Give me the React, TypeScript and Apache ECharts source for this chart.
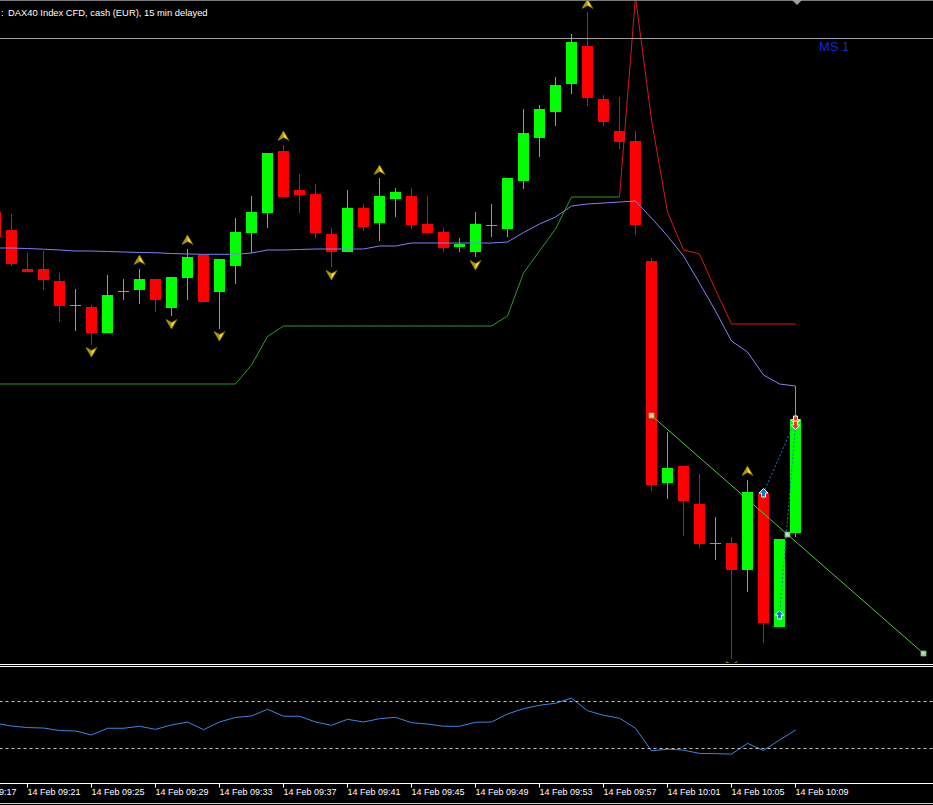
import React, { useEffect, useRef } from "react";
import * as echarts from "echarts";

// ---------- DATA ----------
const candleMinutes = [
  19, 20, 21, 22, 23, 24, 25, 26, 27, 28, 29, 30, 31, 32, 33, 34, 35, 36, 37, 38, 39, 40, 41, 42, 43, 44,
  45, 46, 47, 48, 49, 50, 51, 52, 53, 54, 55, 56, 57, 58, 59, 60, 61, 62, 63, 64, 65, 66, 67, 68, 69,
];
const candleOpen = [
  15594, 15585, 15565.5, 15565.5, 15559.5, 15547.5, 15546.5, 15533.5, 15554.5, 15555, 15560.5, 15546, 15561,
  15572.5, 15554, 15567, 15583.5, 15593.5, 15624.5, 15605, 15603, 15583, 15574, 15596, 15588.5, 15600.5, 15602,
  15588, 15584, 15576.5, 15574, 15587.5, 15585.5, 15609.5, 15631, 15644, 15658, 15677, 15650.5, 15634.5, 15629.5,
  15569.5, 15458.5, 15467, 15448, 15428.5, 15428.5, 15415, 15453.5, 15386.5, 15433.5,
];
const candleClose = [
  15581.5, 15568, 15564, 15560, 15547, 15547.5, 15533.5, 15552.5, 15554.5, 15560.5, 15550, 15561.5, 15571.5,
  15549, 15570.5, 15584, 15594, 15623.5, 15601.5, 15602.5, 15583.5, 15574, 15596, 15586.5, 15602, 15604, 15587.5,
  15583.5, 15576, 15578, 15588, 15587.5, 15611, 15633.5, 15645.5, 15657.5, 15679, 15651, 15639, 15629, 15587.5,
  15457.5, 15466, 15449.5, 15428, 15428.5, 15415, 15454, 15388.5, 15430.5, 15490.5,
];
const candleLow = [
  15580, 15567, 15564, 15555, 15539, 15534.5, 15527.5, 15533.5, 15550, 15548, 15544, 15542, 15550, 15549,
  15535.5, 15558, 15573.5, 15586, 15601.5, 15593.5, 15581, 15566.5, 15574, 15584.5, 15579.5, 15591.5, 15585.5,
  15583.5, 15574, 15574, 15571.5, 15581.5, 15581.5, 15605.5, 15621.5, 15637, 15653, 15647, 15637, 15625.5,
  15582.5, 15454.5, 15450.5, 15432, 15426, 15420, 15370.5, 15404, 15378.5, 15386.5, 15431.5,
];
const candleHigh = [
  15597.5, 15593, 15573.5, 15574.5, 15563.5, 15555.5, 15547.5, 15562.5, 15560.5, 15565.5, 15560.5, 15561.5,
  15575.5, 15572.5, 15570.5, 15591, 15602, 15623.5, 15627.5, 15613, 15608, 15586, 15605, 15598, 15611, 15606,
  15606, 15602, 15586, 15581, 15594, 15598, 15611, 15645.5, 15647.5, 15661.5, 15683, 15694, 15652.5, 15651.5,
  15634.5, 15571, 15484, 15467, 15463, 15441.5, 15431.5, 15460, 15453.5, 15430.5, 15507,
];
const maValues = [
  15576, 15576, 15575.75, 15575.4, 15575, 15574.5, 15574.5, 15574.25, 15574, 15573.75, 15573.65, 15573.25, 15573,
  15572.85, 15572.85, 15572.85, 15573.5, 15575, 15575, 15575.25, 15575.5, 15575.5, 15575.5, 15575.5, 15577, 15577,
  15578.5, 15578.5, 15578.5, 15578.5, 15578.5, 15578.5, 15579, 15583.75, 15588, 15591.5, 15597, 15598, 15598.5,
  15599, 15599.5, 15591, 15582, 15572, 15558.5, 15544.5, 15529.5, 15524, 15512.5, 15508, 15507,
];
const stopUpMinutes = [
  19, 20, 21, 22, 23, 24, 25, 26, 27, 28, 29, 30, 31, 32, 33, 34, 35, 36, 37, 38, 39, 40, 41, 42, 43, 44,
  45, 46, 47, 48, 49, 50, 51, 52, 53, 54, 55, 56, 57, 58,
];
const stopUpValues = [
  15508, 15508, 15508, 15508, 15508, 15508, 15508, 15508, 15508, 15508, 15508, 15508, 15508, 15508, 15508, 15508,
  15517.5, 15531.75, 15537, 15537, 15537, 15537, 15537, 15537, 15537, 15537, 15537, 15537, 15537, 15537, 15537,
  15537, 15542, 15563.5, 15574.5, 15585.5, 15601.5, 15601.5, 15601.5, 15601.5,
];
const stopDownMinutes = [58, 59, 60, 61, 62, 63, 64, 65, 66, 67, 68, 69];
const stopDownValues = [15601.5, 15701.5, 15640, 15594, 15575, 15573, 15555, 15538, 15538, 15538, 15538, 15538];

const fractalUpMinutes = [28, 31, 37, 43, 56, 66];
const fractalUpPrices = [15570, 15580, 15632, 15615, 15698, 15464.5];
const fractalDownMinutes = [25, 30, 33, 40, 49, 65];
const fractalDownPrices = [15524, 15538, 15532, 15562.5, 15567.5, 15367];

const trendMinutes = [60, 77];
const trendPrices = [15492.25, 15373.25];

const tradeOpenMinutes = [67, 68];
const tradeOpenPrices = [15453.5, 15392.5];
const tradeCloseMinutes = [69, 69];
const tradeClosePrices = [15490, 15487.5];

const levelLinePrice = 15680.75;

const rsiValues = [
  51.0, 48.7, 47.4, 47.0, 44.9, 44.5, 41.1, 46.8, 46.8, 48.5, 45.9, 49.6, 52.1, 45.6, 52.1, 56.0, 57.2, 62.9,
  57.0, 57.0, 52.1, 49.3, 54.4, 52.1, 54.9, 56.1, 51.5, 50.4, 48.5, 48.5, 51.9, 52.1, 58.9, 63.4, 66.3, 68.0,
  72.3, 61.7, 57.8, 55.3, 46.8, 27.7, 29.1, 28.3, 25.5, 25.3, 24.9, 34.0, 28.0, 36.8, 45.3,
];
const rsiLevels = [70, 30];

const timeTickMinutes = [17, 21, 25, 29, 33, 37, 41, 45, 49, 53, 57, 61, 65, 69];
const timeLabels = [
  "14 Feb 09:17", "14 Feb 09:21", "14 Feb 09:25", "14 Feb 09:29", "14 Feb 09:33", "14 Feb 09:37",
  "14 Feb 09:41", "14 Feb 09:45", "14 Feb 09:49", "14 Feb 09:53", "14 Feb 09:57", "14 Feb 10:01",
  "14 Feb 10:05", "14 Feb 10:09",
];

const TITLE = "DAX40 Index CFD, cash (EUR), 15 min delayed";
const CORNER_LABEL = "MS 1";

// ---------- STYLE ----------
const FONT = "'Liberation Sans', Arial, sans-serif";
const BULL = "#00ff00";
const BEAR = "#ff0000";
const PRICE_MIN = 15368.5;
const PRICE_MAX = 15700;
const X_MIN = 17;
const X_MAX = 81;

function buildOption(): any {
  const candleData = candleMinutes.map((m, k) => [m, candleOpen[k], candleClose[k], candleLow[k], candleHigh[k]]);
  const fractalData = [
    ...fractalUpMinutes.map((m, k) => [m, fractalUpPrices[k], 1]),
    ...fractalDownMinutes.map((m, k) => [m, fractalDownPrices[k], -1]),
  ];
  const tradeMarkData = [
    ...tradeOpenMinutes.map((m, k) => [m, tradeOpenPrices[k], 1]),
    ...tradeCloseMinutes.map((m, k) => [m, tradeClosePrices[k], -1]),
  ];
  const trendHandles = [
    [trendMinutes[0], trendPrices[0]],
    [(trendMinutes[0] + trendMinutes[1]) / 2, (trendPrices[0] + trendPrices[1]) / 2],
    [trendMinutes[1], trendPrices[1]],
  ];

  const tradeLineSeries = tradeOpenMinutes.map((m, k) => ({
    type: "line",
    xAxisIndex: 0,
    yAxisIndex: 0,
    z: 5,
    silent: true,
    showSymbol: false,
    data: [
      [m, tradeOpenPrices[k]],
      [tradeCloseMinutes[k], tradeClosePrices[k]],
    ],
    lineStyle: { color: "#2f6fd0", width: 1, type: [2, 2] },
  }));

  const gridBase = { outerBoundsMode: "none", containLabel: false };

  return {
    animation: false,
    backgroundColor: "#000000",
    grid: [
      { ...gridBase, left: -36.5, top: 0, width: 1024, height: 663 },
      { ...gridBase, left: -36.5, top: 665.5, width: 1024, height: 118 },
      { ...gridBase, left: -36.5, top: 665.5, width: 832, height: 118 },
    ],
    xAxis: [
      { gridIndex: 0, type: "value", min: X_MIN, max: X_MAX, show: false },
      { gridIndex: 1, type: "value", min: X_MIN, max: X_MAX, show: false },
      {
        gridIndex: 2,
        type: "value",
        min: X_MIN,
        max: 69,
        interval: 4,
        position: "bottom",
        axisLine: { show: false },
        splitLine: { show: false },
        axisTick: { show: true, length: 4, lineStyle: { color: "#ffffff", width: 1 } },
        axisLabel: {
          show: true,
          showMinLabel: true,
          showMaxLabel: true,
          hideOverlap: false,
          color: "#ffffff",
          fontSize: 9,
          fontFamily: FONT,
          align: "left",
          margin: 4,
          formatter: (v: number) => {
            const k = timeTickMinutes.indexOf(Math.round(v));
            return k >= 0 ? timeLabels[k] : "";
          },
        },
      },
    ],
    yAxis: [
      { gridIndex: 0, type: "value", min: PRICE_MIN, max: PRICE_MAX, show: false },
      { gridIndex: 1, type: "value", min: 0, max: 100, show: false },
      { gridIndex: 2, type: "value", min: 0, max: 100, show: false },
    ],
    series: [
      {
        type: "custom",
        name: "candles",
        xAxisIndex: 0,
        yAxisIndex: 0,
        clip: true,
        silent: true,
        z: 2,
        encode: { x: 0, y: [1, 2, 3, 4] },
        data: candleData,
        renderItem: (params: any, api: any) => {
          const x = api.value(0);
          const o = api.value(1);
          const c = api.value(2);
          const l = api.value(3);
          const h = api.value(4);
          const pO = api.coord([x, o]);
          const pC = api.coord([x, c]);
          const pL = api.coord([x, l]);
          const pH = api.coord([x, h]);
          const bw = api.size([1, 0])[0] * 0.6875;
          const color = c >= o ? BULL : BEAR;
          const top = Math.min(pO[1], pC[1]);
          const hgt = Math.max(Math.abs(pO[1] - pC[1]), 1);
          return {
            type: "group",
            children: [
              {
                type: "line",
                shape: { x1: pH[0], y1: pH[1], x2: pL[0], y2: pL[1] },
                style: { stroke: color, lineWidth: 1 },
              },
              {
                type: "rect",
                shape: { x: pO[0] - bw / 2, y: top, width: bw, height: hgt },
                style: { fill: color },
              },
            ],
          };
        },
      },
      {
        type: "line",
        name: "ma",
        xAxisIndex: 0,
        yAxisIndex: 0,
        z: 3,
        silent: true,
        showSymbol: false,
        data: candleMinutes.map((m, k) => [m, maValues[k]]),
        lineStyle: { color: "#8282f5", width: 1 },
        markLine: {
          silent: true,
          symbol: ["none", "none"],
          label: { show: false },
          lineStyle: { color: "#a0a0a0", width: 1, type: "solid" },
          data: [{ yAxis: levelLinePrice }],
        },
      },
      {
        type: "line",
        name: "stopUp",
        xAxisIndex: 0,
        yAxisIndex: 0,
        z: 3,
        silent: true,
        showSymbol: false,
        data: stopUpMinutes.map((m, k) => [m, stopUpValues[k]]),
        lineStyle: { color: "#2d9a2d", width: 1 },
      },
      {
        type: "line",
        name: "stopDown",
        xAxisIndex: 0,
        yAxisIndex: 0,
        z: 3,
        silent: true,
        showSymbol: false,
        data: stopDownMinutes.map((m, k) => [m, stopDownValues[k]]),
        lineStyle: { color: "#d81818", width: 1 },
      },
      {
        type: "line",
        name: "trend",
        xAxisIndex: 0,
        yAxisIndex: 0,
        z: 4,
        silent: true,
        showSymbol: false,
        data: trendMinutes.map((m, k) => [m, trendPrices[k]]),
        lineStyle: { color: "#4cc83a", width: 1 },
      },
      {
        type: "scatter",
        name: "trendHandles",
        xAxisIndex: 0,
        yAxisIndex: 0,
        z: 6,
        silent: true,
        symbol: "rect",
        symbolSize: 5,
        data: trendHandles,
        itemStyle: { color: "#eaffe0", borderColor: "#5cc84a", borderWidth: 1 },
      },
      ...tradeLineSeries,
      {
        type: "custom",
        name: "fractals",
        xAxisIndex: 0,
        yAxisIndex: 0,
        clip: true,
        silent: true,
        z: 5,
        data: fractalData,
        renderItem: (params: any, api: any) => {
          const p = api.coord([api.value(0), api.value(1)]);
          const s = api.value(2);
          const tip = [p[0], p[1] - 5 * s];
          const right = [p[0] + 5.5, p[1] + 4.5 * s];
          const notch = [p[0], p[1] + 1.5 * s];
          const left = [p[0] - 5.5, p[1] + 4.5 * s];
          return {
            type: "group",
            children: [
              {
                type: "polygon",
                shape: { points: [tip, right, notch, left] },
                style: { fill: "#ffe01c", stroke: "#6e6200", lineWidth: 0.8 },
              },
              { type: "polygon", shape: { points: [tip, notch, left] }, style: { fill: "#a89410" } },
            ],
          };
        },
      },
      {
        type: "custom",
        name: "tradeMarks",
        xAxisIndex: 0,
        yAxisIndex: 0,
        clip: true,
        silent: true,
        z: 7,
        data: tradeMarkData,
        renderItem: (params: any, api: any) => {
          const p = api.coord([api.value(0), api.value(1)]);
          const s = api.value(2);
          const shape = [
            [0, -4.5],
            [4.5, 0],
            [2, 0],
            [2, 4],
            [-2, 4],
            [-2, 0],
            [-4.5, 0],
          ].map(([dx, dy]) => [p[0] + dx, p[1] + dy * s]);
          return {
            type: "polygon",
            shape: { points: shape },
            style: { fill: s > 0 ? "#1f6fcf" : "#e8401c", stroke: "#ffffff", lineWidth: 1 },
          };
        },
      },
      {
        type: "line",
        name: "rsi",
        xAxisIndex: 1,
        yAxisIndex: 1,
        z: 3,
        silent: true,
        showSymbol: false,
        data: candleMinutes.map((m, k) => [m, rsiValues[k]]),
        lineStyle: { color: "#3f86e0", width: 1 },
        markLine: {
          silent: true,
          symbol: ["none", "none"],
          label: { show: false },
          lineStyle: { color: "#c4c4c4", width: 1, type: [3, 3] },
          data: rsiLevels.map((v) => ({ yAxis: v })),
        },
      },
    ],
    graphic: [
      { type: "line", z: 10, shape: { x1: 0, y1: 0.5, x2: 933, y2: 0.5 }, style: { stroke: "#7a7a7a", lineWidth: 1 } },
      { type: "line", z: 10, shape: { x1: 0, y1: 664.5, x2: 933, y2: 664.5 }, style: { stroke: "#ffffff", lineWidth: 1 } },
      { type: "line", z: 10, shape: { x1: 0, y1: 666.5, x2: 933, y2: 666.5 }, style: { stroke: "#ffffff", lineWidth: 1 } },
      { type: "line", z: 10, shape: { x1: 0, y1: 783.5, x2: 933, y2: 783.5 }, style: { stroke: "#ffffff", lineWidth: 1 } },
      { type: "line", z: 10, shape: { x1: 0, y1: 803.5, x2: 933, y2: 803.5 }, style: { stroke: "#c8c8c8", lineWidth: 1 } },
      {
        type: "polygon",
        z: 10,
        shape: { points: [[792, 0], [802, 0], [797, 5]] },
        style: { fill: "#a0a0a0" },
      },
      {
        type: "text",
        z: 10,
        x: 1,
        y: 12,
        style: { text: ":", fill: "#ffffff", fontSize: 9.4, fontFamily: FONT, verticalAlign: "middle" },
      },
      {
        type: "text",
        z: 10,
        x: 8,
        y: 12,
        style: { text: TITLE, fill: "#ffffff", fontSize: 9.4, fontFamily: FONT, verticalAlign: "middle" },
      },
      {
        type: "text",
        z: 10,
        x: 819,
        y: 46,
        style: { text: CORNER_LABEL, fill: "#1428d0", fontSize: 13, fontFamily: FONT, verticalAlign: "middle" },
      },
    ],
  };
}

export default function App() {
  const ref = useRef<HTMLDivElement>(null);
  useEffect(() => {
    if (!ref.current) return;
    const chart = echarts.init(ref.current, null, { renderer: "svg" });
    chart.setOption(buildOption());
    return () => chart.dispose();
  }, []);
  return (
    <div
      ref={ref}
      style={{ position: "fixed", left: 0, top: 0, width: 933, height: 805, background: "#000000" }}
    />
  );
}
